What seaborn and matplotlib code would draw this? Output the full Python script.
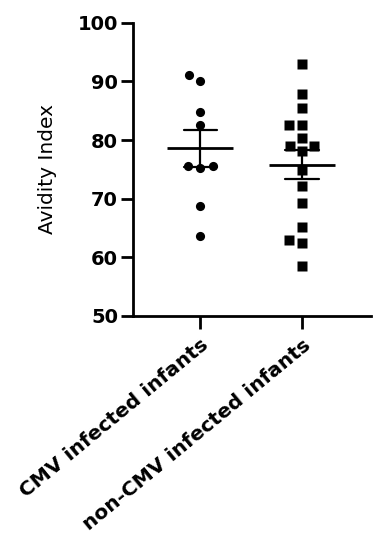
import pandas as pd
import matplotlib
matplotlib.use("Agg")
import matplotlib.pyplot as plt
import seaborn as sns

groups = ["CMV infected infants", "non-CMV infected infants"]
cmv_values = [91.1, 90.0, 84.8, 82.5, 75.5, 75.6, 75.2, 68.7, 63.7]
non_cmv_values = [93.0, 87.8, 85.4, 82.5, 82.5, 80.3, 79.0, 79.0, 78.2,
                  74.9, 72.1, 69.2, 65.2, 62.5, 62.9, 58.5]
y_ticks = [50, 60, 70, 80, 90, 100]

sns.set_theme(style="ticks")
plt.rcParams["font.family"] = ["DejaVu Sans"]

df = pd.DataFrame({
    "group": [groups[0]] * len(cmv_values) + [groups[1]] * len(non_cmv_values),
    "value": cmv_values + non_cmv_values,
})

fig = plt.figure(figsize=(3.9, 5.5), dpi=100)
ax = fig.add_axes([0.342, 0.4255, 0.609, 0.533])

# invisible edge widens the swarm spacing a bit, like Prism does
for g, m in zip(groups, ["o", "s"]):
    sns.swarmplot(data=df[df["group"] == g], x="group", y="value", order=groups,
                  marker=m, color="black", size=6.6, linewidth=2.2,
                  edgecolor=(0, 0, 0, 0), ax=ax)

sns.pointplot(data=df, x="group", y="value", order=groups, errorbar="se",
              color="black", markers="_", markersize=48, markeredgewidth=2,
              linestyles="none", capsize=0.33, err_kws={"linewidth": 1.6},
              ax=ax)

ax.set_ylim(50, 100)
ax.set_xlim(-0.66, 1.68)
ax.set_yticks(y_ticks)
ax.set_yticklabels([str(t) for t in y_ticks], fontsize=14, fontweight="bold")
ax.set_xticks([0, 1])
ax.set_xticklabels(groups, fontsize=14.5, fontweight="bold", rotation=39.5,
                   ha="right", rotation_mode="anchor")
ax.set_xlabel("")
ax.set_ylabel("Avidity Index", fontsize=14.5, labelpad=15, color="black")
sns.despine(ax=ax)
for s in ["left", "bottom"]:
    ax.spines[s].set_linewidth(2)
    ax.spines[s].set_color("black")
ax.tick_params(axis="both", length=9, width=2, color="black", labelcolor="black", pad=2)
ax.tick_params(axis="x", pad=5)

fig.savefig("out.png", dpi=100)
